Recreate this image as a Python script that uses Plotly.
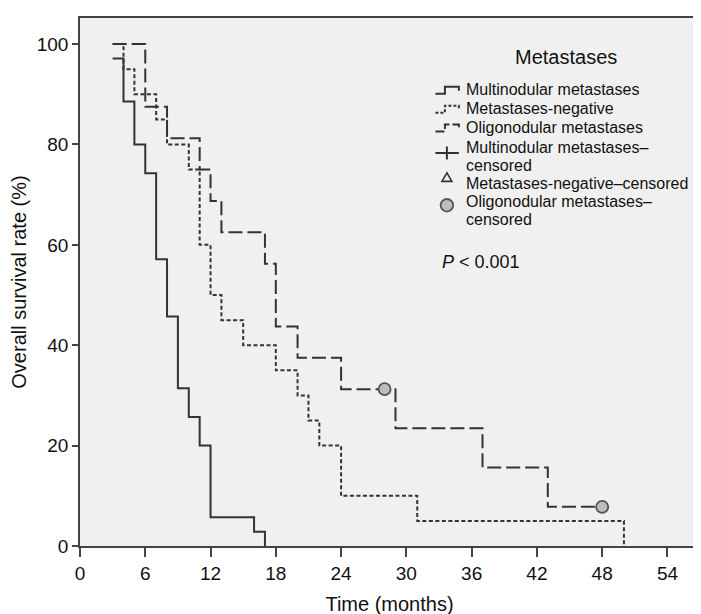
import plotly.graph_objects as go

# ---------------- data ----------------
multi_t = [3, 4, 5, 6, 7, 8, 9, 10, 11, 12, 16, 17]
multi_s = [97.14, 88.57, 80.0, 74.29, 57.14, 45.71, 31.43, 25.71, 20.0, 5.71, 2.86, 0.0]

neg_t = [3, 4, 5, 7, 8, 10, 11, 12, 13, 15, 18, 20, 21, 22, 24, 31, 50]
neg_s = [100, 95, 90, 85, 80, 75, 60, 50, 45, 40, 35, 30, 25, 20, 10, 5, 0]

oligo_t = [3, 6, 8, 11, 12, 13, 17, 18, 20, 24, 29, 37, 43, 48]
oligo_s = [100, 87.5, 81.25, 75, 68.75, 62.5, 56.25, 43.75, 37.5, 31.25, 23.44, 15.63, 7.81, 7.81]

oligo_cens_t = [28, 48]
oligo_cens_s = [31.25, 7.81]

x_ticks = [0, 6, 12, 18, 24, 30, 36, 42, 48, 54]
y_ticks = [0, 20, 40, 60, 80, 100]

legend_title = "Metastases"
legend_lines = ["Multinodular metastases", "Metastases-negative", "Oligonodular metastases"]
legend_cens = [["Multinodular metastases–", "censored"],
               ["Metastases-negative–censored"],
               ["Oligonodular metastases–", "censored"]]
p_text = "<i>P</i> &lt; 0.001"

# ---------------- layout geometry ----------------
W, H = 701, 614
ML, MR, MT, MB = 72, 9, 8, 76
PW, PH = W - ML - MR, H - MT - MB

def px(x):
    return (x - ML) / PW

def py(y):
    return (H - MB - y) / PH

LINE = "#333333"
FONT = "Liberation Sans, Arial, sans-serif"

fig = go.Figure()

fig.add_trace(go.Scatter(x=multi_t, y=multi_s, mode="lines", line_shape="hv",
                         line=dict(color=LINE, width=2), name=legend_lines[0],
                         showlegend=False))
fig.add_trace(go.Scatter(x=neg_t, y=neg_s, mode="lines", line_shape="hv",
                         line=dict(color=LINE, width=2, dash="4px,2.5px"), name=legend_lines[1],
                         showlegend=False))
fig.add_trace(go.Scatter(x=oligo_t, y=oligo_s, mode="lines", line_shape="hv",
                         line=dict(color=LINE, width=2, dash="14px,5px"), name=legend_lines[2],
                         showlegend=False))
fig.add_trace(go.Scatter(x=oligo_cens_t, y=oligo_cens_s, mode="markers",
                         marker=dict(symbol="circle", size=12, color="#bdbdbd",
                                     line=dict(color="#555555", width=1.8)),
                         name="Oligonodular metastases–censored", showlegend=False))

shapes = []
annotations = []

# legend title
annotations.append(dict(x=px(559), y=py(47), xref="paper", yref="paper", text=legend_title,
                        showarrow=False, xanchor="center", yanchor="middle",
                        font=dict(size=20, color="#111111", family=FONT)))

# legend line entries
sym_x0, sym_xm, sym_x1 = 428, 437.5, 451.5
line_rows = [(80, "solid"), (99, "3px,2px"), (118, "9px,3px")]
for (yc, dash), label in zip(line_rows, legend_lines):
    lo, up = yc + 4, yc - 3
    path = (f"M {px(sym_x0)},{py(lo)} L {px(sym_xm)},{py(lo)} L {px(sym_xm)},{py(up)} "
            f"L {px(sym_x1)},{py(up)} L {px(sym_x1)},{py(up + 4)}")
    shapes.append(dict(type="path", xref="paper", yref="paper", path=path,
                       line=dict(color=LINE, width=2, dash=dash)))
    annotations.append(dict(x=px(457), y=py(yc), xref="paper", yref="paper", text=label,
                            showarrow=False, xanchor="left", yanchor="middle",
                            font=dict(size=16, color="#111111", family=FONT)))

# censored entries text
cens_rows = [[138, 156], [174], [192.5, 210]]
for rows, labels in zip(cens_rows, legend_cens):
    for yc, lab in zip(rows, labels):
        annotations.append(dict(x=px(457), y=py(yc), xref="paper", yref="paper", text=lab,
                                showarrow=False, xanchor="left", yanchor="middle",
                                font=dict(size=16, color="#111111", family=FONT)))

# censored symbols: plus, triangle, circle
cx = 439.5
shapes.append(dict(type="line", xref="paper", yref="paper", x0=px(428), x1=px(451.5),
                   y0=py(143.5), y1=py(143.5), line=dict(color=LINE, width=2)))
shapes.append(dict(type="line", xref="paper", yref="paper", x0=px(cx), x1=px(cx),
                   y0=py(137), y1=py(150), line=dict(color=LINE, width=2)))
tri = (f"M {px(cx - 5)},{py(172)} L {px(cx + 5)},{py(172)} L {px(cx)},{py(163.5)} Z")
shapes.append(dict(type="path", xref="paper", yref="paper", path=tri,
                   line=dict(color=LINE, width=1.6), fillcolor="rgba(0,0,0,0)"))
shapes.append(dict(type="circle", xref="paper", yref="paper",
                   x0=px(cx - 6.3), x1=px(cx + 6.3), y0=py(196 + 6.3), y1=py(196 - 6.3),
                   line=dict(color="#555555", width=1.8), fillcolor="#bdbdbd"))

# P value
annotations.append(dict(x=px(433), y=py(253), xref="paper", yref="paper", text=p_text,
                        showarrow=False, xanchor="left", yanchor="middle",
                        font=dict(size=18, color="#111111", family=FONT)))

fig.update_layout(
    width=W, height=H,
    margin=dict(l=ML, r=MR, t=MT, b=MB, pad=0),
    paper_bgcolor="white", plot_bgcolor="#f0f0f0",
    font=dict(family=FONT, color="#111111"),
    shapes=shapes, annotations=annotations,
    showlegend=False,
)
fig.update_xaxes(range=[0, 56.9], tickvals=x_ticks, ticktext=[str(v) for v in x_ticks],
                 showgrid=False, zeroline=False, showline=True, mirror=True,
                 linecolor="#444444", linewidth=1.5, ticks="outside", ticklen=9,
                 tickwidth=1.5, tickcolor="#444444", tickfont=dict(size=19),
                 title=dict(text="Time (months)", font=dict(size=20), standoff=14))
fig.update_yaxes(range=[0, 105.2], tickvals=y_ticks, ticktext=[str(v) for v in y_ticks],
                 showgrid=False, zeroline=False, showline=True, mirror=True,
                 linecolor="#444444", linewidth=1.5, ticks="outside", ticklen=6,
                 tickwidth=1.5, tickcolor="#444444", tickfont=dict(size=19),
                 title=dict(text="Overall survival rate (%)", font=dict(size=20), standoff=6))

fig.write_html("out.html")
